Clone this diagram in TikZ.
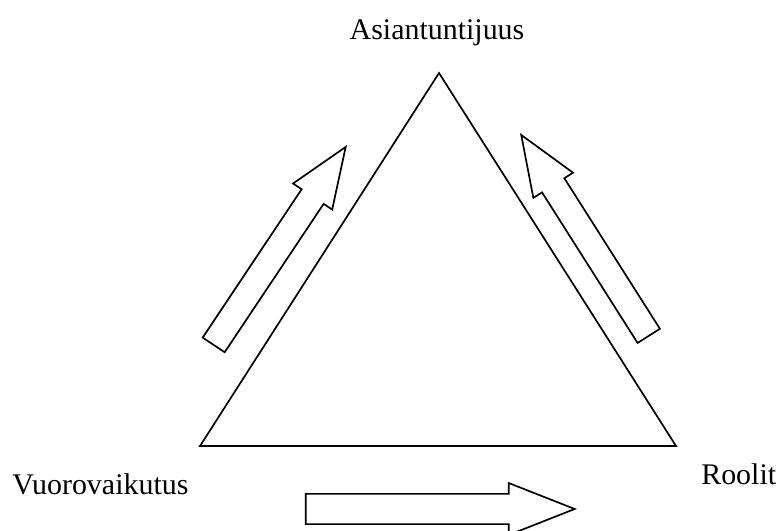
\documentclass[tikz,border=0pt]{standalone}
\usepackage{fontspec}
\setmainfont{Liberation Serif}
\usetikzlibrary{shapes.arrows}

\tikzset{
	kulma/.style={inner sep=0pt,font=\fontsize{21.3}{26}\selectfont},
	nuoli/.style={draw=black,line width=1.2pt,single arrow,single arrow tip angle=43,
		inner sep=0.3cm,minimum width=1.175cm,minimum height=5.95cm,anchor=tip}
}

\begin{document}
\begin{tikzpicture}
	\useasboundingbox (0,0) rectangle (19.475,13.275);

% labels
	\node[kulma,anchor=base] (asiantuntijuus) at (10.925,12.275) {Asiantuntijuus};
	\node[kulma,anchor=base west] (vuorovaikutus) at (0.3,0.9) {Vuorovaikutus};
	\node[kulma,anchor=base west] (roolit) at (17.525,1.15) {Roolit};

	% triangle
	\coordinate (vasen) at (5.0,2.125);
	\coordinate (huippu) at (10.975,11.45);
	\coordinate (oikea) at (16.9,2.125);
	\draw[line width=1.2pt,line join=miter] (vasen) -- (huippu) -- (oikea) -- cycle;

	% arrows (placed at their tips)
	\node[nuoli,rotate=56.3] (nuoli1) at (8.675,9.65) {};
	\node[nuoli,rotate=122.4] (nuoli2) at (13.0,9.95) {};
	\node[nuoli,inner sep=0.325cm,minimum width=1.3cm,minimum height=6.725cm] (nuoli3) at (14.425,0.55) {};
\end{tikzpicture}
\end{document}
